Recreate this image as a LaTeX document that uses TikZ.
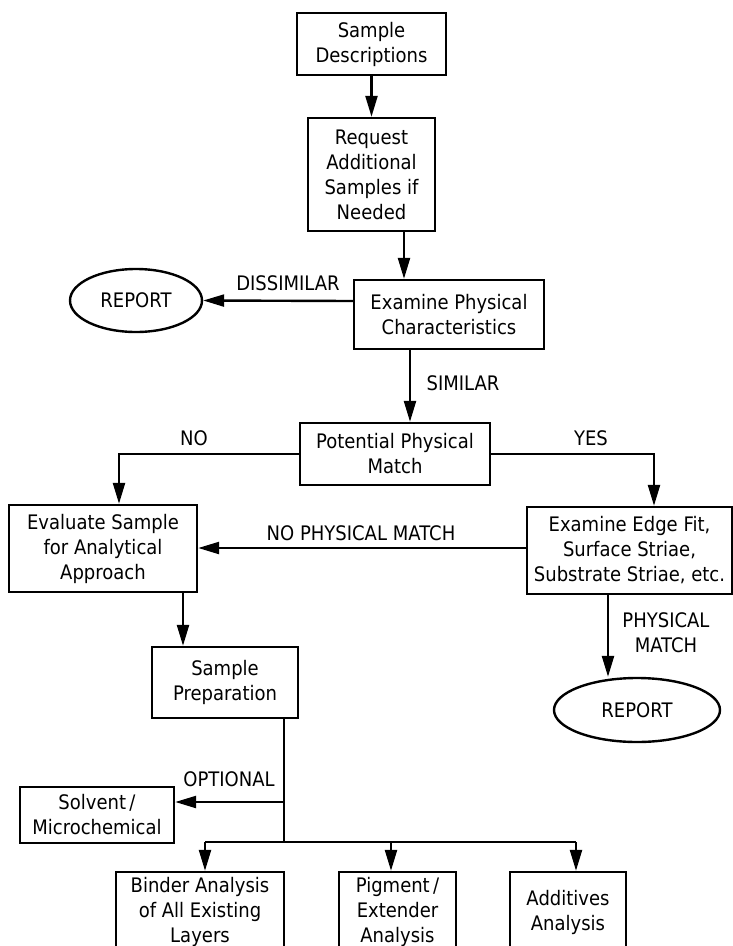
\documentclass[tikz,border=0pt]{standalone}
\usepackage{fontspec}
\setmainfont{DejaVu Sans}[FakeStretch=0.9]
\usetikzlibrary{arrows.meta,shapes.geometric,calc}
\tikzset{blk/.style={draw, align=center, inner sep=2pt},oval/.style={ellipse, draw, inner sep=0pt},lbl/.style={inner sep=1pt, align=center}}
\tikzset{arr/.style={-{Triangle[length=21pt,width=12pt]}}}

\begin{document}
\begin{tikzpicture}[x=1pt,y=-1pt,line width=2.4pt,font=\fontsize{20}{25}\selectfont]
  \useasboundingbox (0,0) rectangle (733,946);
  \clip (0,0) rectangle (733,946);
  \node[blk, minimum width=149pt, minimum height=62pt] (desc) at (371.5,44) {Sample\\Descriptions};
  \node[blk, minimum width=127pt, minimum height=113pt] (req) at (371.5,174.5) {Request\\Additional\\Samples if\\Needed};
  \node[blk, minimum width=190pt, minimum height=69pt] (phys) at (449,314.5) {Examine Physical\\Characteristics};
  \node[oval, minimum width=132pt, minimum height=63pt] (rep1) at (136,300.5) {REPORT};
  \node[blk, minimum width=190pt, minimum height=62pt] (pot) at (395,454) {Potential Physical\\Match};
  \node[blk, minimum width=188pt, minimum height=87pt] (eval) at (103,548.5) {Evaluate Sample\\for Analytical\\Approach};
  \node[blk, minimum width=205pt, minimum height=87pt] (edge) at (629.5,550.5) {Examine Edge Fit,\\Surface Striae,\\Substrate Striae, etc.};
  \node[blk, minimum width=146pt, minimum height=71pt] (prep) at (225,682.5) {Sample\\Preparation};
  \node[oval, minimum width=166pt, minimum height=64pt] (rep2) at (637,710) {REPORT};
  \node[blk, minimum width=154pt, minimum height=56pt] (solv) at (97,815) {Solvent\,/\\Microchemical};
  \node[blk, minimum width=168pt, minimum height=80pt] (binder) at (200,912) {Binder Analysis\\of All Existing\\Layers};
  \node[blk, minimum width=117pt, minimum height=80pt] (pigm) at (397.5,912) {Pigment\,/\\Extender\\Analysis};
  \node[blk, minimum width=116pt, minimum height=80pt] (addi) at (568,912) {Additives\\Analysis};

  \node[lbl] (dis) at (288,283) {DISSIMILAR};
  \node[lbl] (sim) at (463,383) {SIMILAR};
  \node[lbl] (no) at (194,438) {NO};
  \node[lbl] (yes) at (591,438) {YES};
  \node[lbl] (nomatch) at (361,533) {NO PHYSICAL MATCH};
  \node[lbl] (match) at (666,632.5) {PHYSICAL\\MATCH};
  \node[lbl] (opttxt) at (229,779) {OPTIONAL};

  \coordinate (opt) at (284,802);
  \coordinate (split) at (284,842);
  \coordinate (b1) at (205,842);
  \coordinate (b2) at (391,842);
  \coordinate (b3) at (576,842);

  \draw[arr] (desc) -- (req);
  \draw[arr] ([xshift=32.5pt]req.south) -- ([xshift=32.5pt]req.south |- phys.north);
  \draw[arr] ([yshift=13.5pt]phys.west) -- (rep1.east);
  \draw[arr] ([xshift=-39pt]phys.south) -- ([xshift=-39pt]phys.south |- pot.north);
  \draw[arr] (pot.west) -| ([xshift=16pt]eval.north);
  \draw[arr] (pot.east) -| ([xshift=24.5pt]edge.north);
  \draw[arr] ([yshift=2.5pt]edge.west) -- ([yshift=2.5pt]edge.west -| eval.east);
  \draw[arr] ([xshift=80pt]eval.south) -- ([xshift=80pt]eval.south |- prep.north);
  \draw[arr] ([xshift=-21.5pt]edge.south) -- ([xshift=-21.5pt]edge.south |- rep2.north);
  \draw ([xshift=59pt]prep.south) -- (split);
  \draw[arr] (opt) -- (opt -| solv.east);
  \draw (b1) -- (b3);
  \foreach \b/\n in {b1/binder, b2/pigm, b3/addi}
    \draw[arr] (\b) -- (\b |- \n.north);
\end{tikzpicture}
\end{document}
